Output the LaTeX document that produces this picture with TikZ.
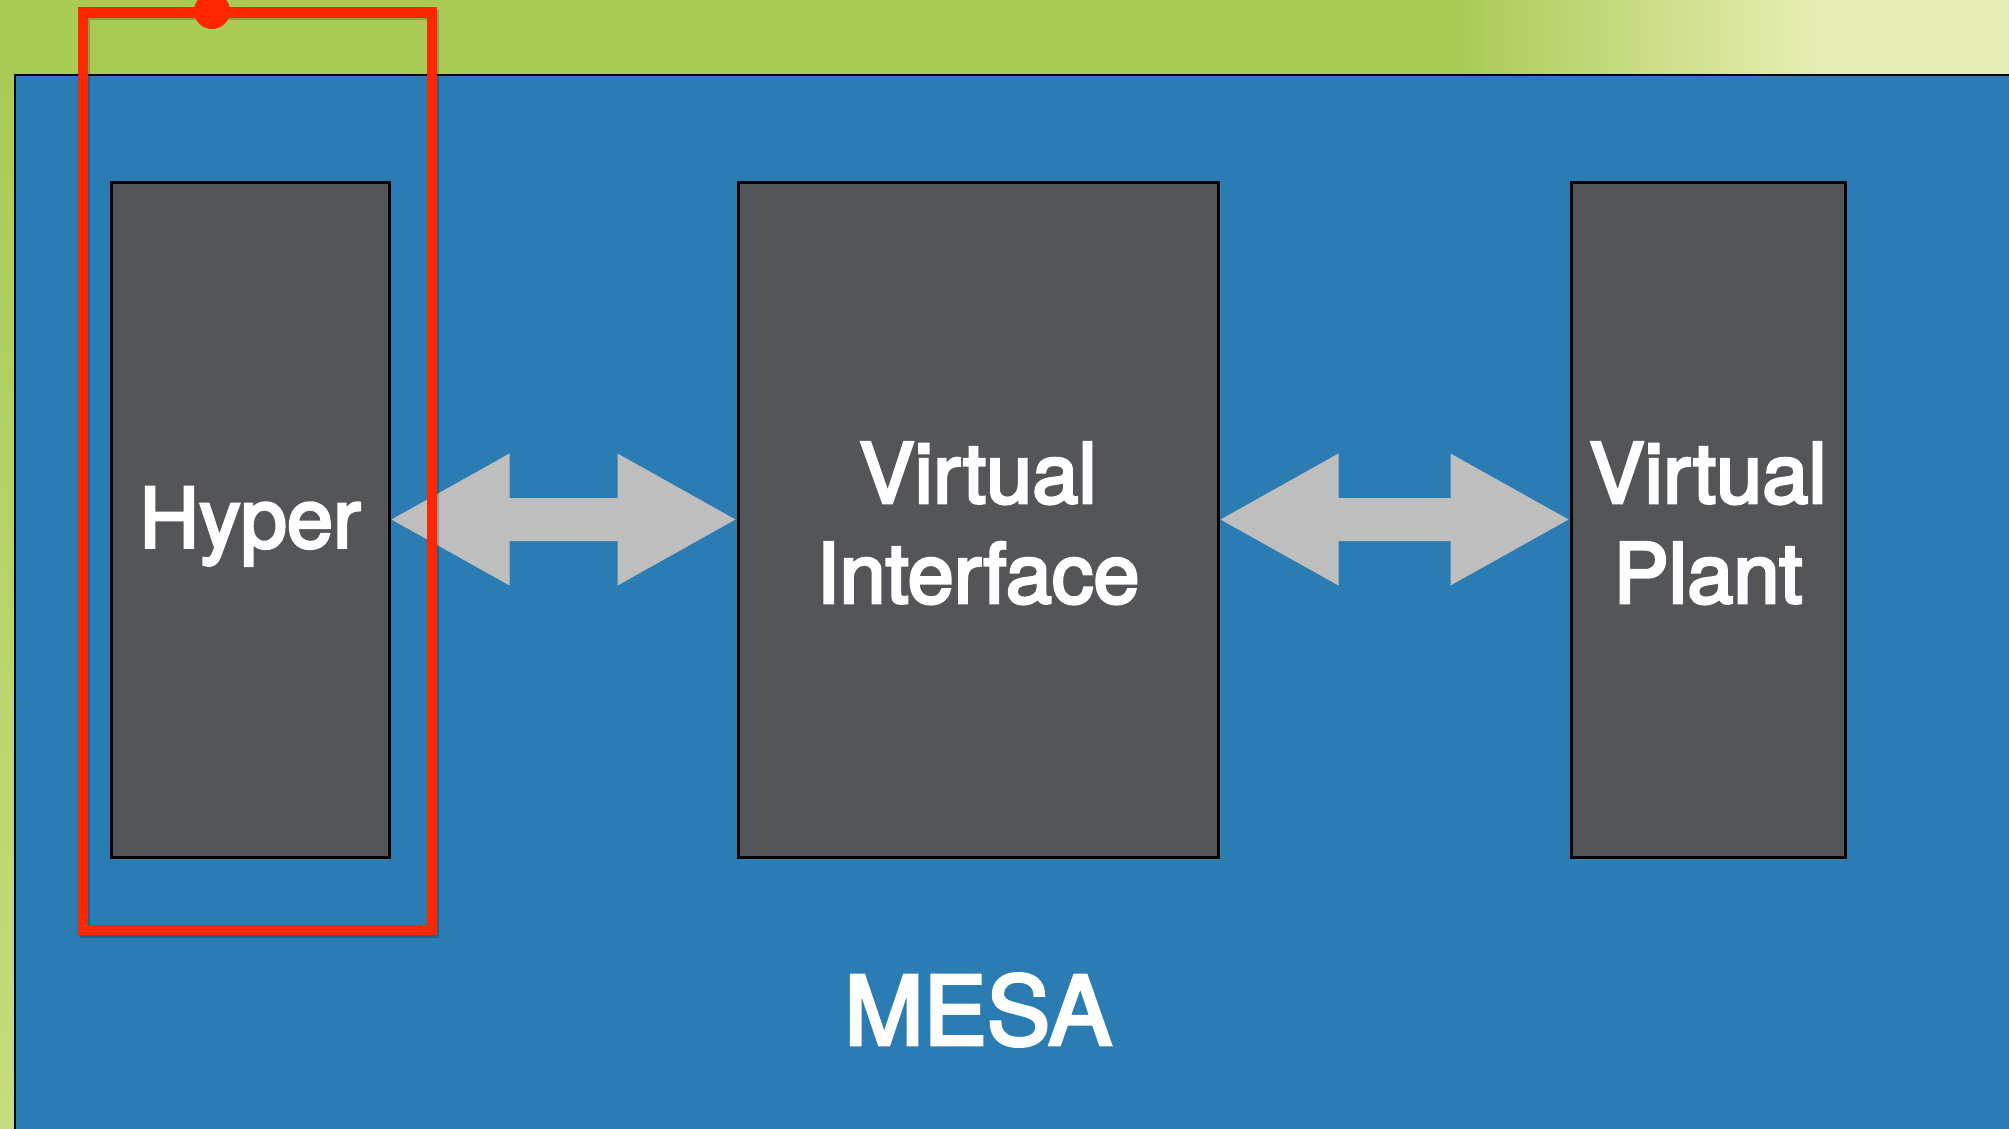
\documentclass[tikz,border=0pt]{standalone}
\usepackage{fontspec}
\setmainfont{TeX Gyre Heros}
\newfontfamily\labelfont[FakeBold=3.5]{TeX Gyre Heros}
\usetikzlibrary{calc,shadows}
\definecolor{bggreen}{HTML}{A9CB56}
\definecolor{bglight}{HTML}{E8EEB3}
\definecolor{stripgreen}{HTML}{C6DC80}
\definecolor{mesablue}{HTML}{2B7CB2}
\definecolor{boxgray}{HTML}{545559}
\definecolor{arrowgray}{HTML}{BEBEBE}
\definecolor{markred}{HTML}{FF2600}
\tikzset{
  comp/.style={draw=black, line width=3pt, fill=boxgray, text=white,
    font=\labelfont\fontsize{83}{100}\selectfont, align=center, inner sep=0pt,
    drop shadow={shadow xshift=2pt, shadow yshift=-3pt, opacity=0.35}},
  bigarrow/.style={fill=arrowgray},
  marker/.style={draw=markred, line width=10.5pt},
}
\newcommand{\dblarrow}[2]{%
  \fill[bigarrow] let \p1=(#1.east), \p2=(#2.west) in
    (\x1+1pt,\y1) -- (\x1+119pt,\y1+66pt) -- (\x1+119pt,\y1+21.5pt)
    -- (\x2-119pt,\y1+21.5pt) -- (\x2-119pt,\y1+66pt) -- (\x2-1pt,\y1)
    -- (\x2-119pt,\y1-66pt) -- (\x2-119pt,\y1-21.5pt)
    -- (\x1+119pt,\y1-21.5pt) -- (\x1+119pt,\y1-66pt) -- cycle;}
\begin{document}
\begin{tikzpicture}[x=1pt,y=-1pt]
  \useasboundingbox (0,0) rectangle (2009,1128);
  \clip (0,0) rectangle (2009,1128);
  % background
  \fill[bggreen] (0,0) rectangle (2009,1128);
  \shade[left color=bggreen, right color=bglight] (1460,0) rectangle (1820,80);
  \fill[bglight] (1819,0) rectangle (2009,80);
  \shade[top color=bggreen, bottom color=stripgreen] (0,80) rectangle (14,1128);
  % MESA panel
  \fill[mesablue, draw=black, line width=2.5pt] (15,75) rectangle (2020,1140);
  % components
  \node[comp, minimum width=278pt, minimum height=675pt] (hyper) at (250,519.5) {\rule{0pt}{74pt}Hyper};
  \node[comp, minimum width=480pt, minimum height=675pt] (vi) at (978,519.5) {\rule{0pt}{68pt}Virtual\\Interface};
  \node[comp, minimum width=274pt, minimum height=675pt] (vp) at (1708,519.5) {\rule{0pt}{68pt}Virtual\\Plant};
  % connectors
  \dblarrow{hyper}{vi}
  \dblarrow{vi}{vp}
  % label
  \node[text=white, font=\labelfont\fontsize{95}{110}\selectfont, inner sep=0pt] (mesa) at (978,1010) {MESA};
  % red highlight
  \draw[black, opacity=0.2, line width=10.5pt] (85,15) rectangle (434,933);
  \draw[marker] (83,12.5) rectangle (432,930);
  \fill[markred] (212,11) circle (18);
\end{tikzpicture}
\end{document}
